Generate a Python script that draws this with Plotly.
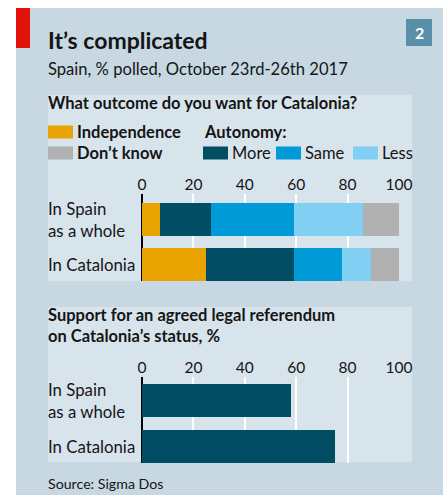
import plotly.graph_objects as go

# ---- data ----
categories = ["In Spain<br>as a whole", "In Catalonia"]
series_names = ["Independence", "More", "Same", "Less", "Don't know"]
independence = [7, 25]
more = [20, 34]
same = [32, 19]
less = [27, 11]
dont_know = [14, 11]
referendum = [58, 75]
tick_vals = [0, 20, 40, 60, 80, 100]
tick_text = ["0", "20", "40", "60", "80", "100"]

title = "It’s complicated"
subtitle = "Spain, % polled, October 23rd-26th 2017"
q1 = "What outcome do you want for Catalonia?"
q2 = "Support for an agreed legal referendum<br>on Catalonia’s status, %"
source = "Source: Sigma Dos"

# ---- style ----
W, H = 443, 495
FONT = "Lato"
C_IND = "#E9A300"
C_MORE = "#004D64"
C_SAME = "#009BD6"
C_LESS = "#82CFF4"
C_DK = "#B0B1B0"
OUTER = "#C7D8E2"
INNER = "#D8E4EC"
RED = "#E3120B"
BADGE = "#5A8FA8"
TXT = "#151515"
colors = [C_IND, C_MORE, C_SAME, C_LESS, C_DK]
values = [independence, more, same, less, dont_know]


def px(x):
    return x / W


def py(y):
    return 1 - y / H


fig = go.Figure()
for name, vals, col in zip(series_names, values, colors):
    fig.add_trace(go.Bar(x=vals, y=categories, orientation="h", name=name,
                         marker=dict(color=col, line=dict(width=0)),
                         xaxis="x", yaxis="y", showlegend=False,
                         hoverinfo="skip"))
fig.add_trace(go.Bar(x=referendum, y=categories, orientation="h",
                     marker=dict(color=C_MORE, line=dict(width=0)),
                     xaxis="x2", yaxis="y2", showlegend=False,
                     hoverinfo="skip"))

axis_common = dict(range=[0, 100], tickvals=tick_vals, ticktext=tick_text,
                   side="top", showgrid=True, gridcolor="white", gridwidth=2,
                   zeroline=True, zerolinecolor="black", zerolinewidth=1.5,
                   showline=False, ticks="", fixedrange=True, automargin=False,
                   tickfont=dict(family=FONT, size=15.5, color=TXT))

shapes = [
    dict(type="rect", xref="paper", yref="paper", x0=px(16), x1=px(443),
         y0=py(495), y1=py(8), fillcolor=OUTER, line=dict(width=0), layer="below"),
    dict(type="rect", xref="paper", yref="paper", x0=px(16), x1=px(30),
         y0=py(48), y1=py(8), fillcolor=RED, line=dict(width=0), layer="below"),
    dict(type="rect", xref="paper", yref="paper", x0=px(406), x1=px(432),
         y0=py(46), y1=py(19), fillcolor=BADGE, line=dict(width=0), layer="below"),
    dict(type="rect", xref="paper", yref="paper", x0=px(48), x1=px(412),
         y0=py(281), y1=py(95), fillcolor=INNER, line=dict(width=0), layer="below"),
    dict(type="rect", xref="paper", yref="paper", x0=px(48), x1=px(412),
         y0=py(462), y1=py(307), fillcolor=INNER, line=dict(width=0), layer="below"),
]

annotations = []


def ann(text, x, y, size, bold=False, color=TXT, xanchor="left", yanchor="middle"):
    t = f"<b>{text}</b>" if bold else text
    annotations.append(dict(text=t, x=x, y=y, xref="paper", yref="paper",
                            xanchor=xanchor, yanchor=yanchor, showarrow=False,
                            align="left",
                            font=dict(family=FONT, size=size, color=color)))


ann(title, px(46), py(40), 23, bold=True)
ann("2", px(419), py(32.5), 16, bold=True, color="white", xanchor="center")
ann(subtitle, px(46), py(69), 16.6)
ann(q1, px(46), py(103), 16.5, bold=True)
ann(q2, px(46), py(325), 16.5, bold=True)
ann(source, px(46), py(483), 14.2)

# legend
legend_items = [
    ("Independence", C_IND, 48, 132, True),
    ("Don’t know", C_DK, 48, 153, True),
    ("More", C_MORE, 203, 153, False),
    ("Same", C_SAME, 276, 153, False),
    ("Less", C_LESS, 353, 153, False),
]
for label, col, x0, yc, bold in legend_items:
    shapes.append(dict(type="rect", xref="paper", yref="paper", x0=px(x0), x1=px(x0 + 25),
                       y0=py(yc + 6.5), y1=py(yc - 6.5), fillcolor=col,
                       line=dict(width=0)))
    ann(label, px(x0 + 27), py(yc), 16.5, bold=bold)
ann("Autonomy:", px(202), py(132), 16.5, bold=True)

# category labels (left aligned)
for yref in ["y", "y2"]:
    for cat in categories:
        annotations.append(dict(text=cat, x=px(46), y=cat, xref="paper", yref=yref,
                                xanchor="left", yanchor="middle", showarrow=False,
                                align="left",
                                font=dict(family=FONT, size=16.8, color=TXT)))

fig.update_layout(
    width=W, height=H, autosize=False,
    margin=dict(l=0, r=0, t=0, b=0, pad=0),
    paper_bgcolor="white", plot_bgcolor="rgba(0,0,0,0)",
    barmode="stack", bargap=0.27,
    showlegend=False,
    xaxis=dict(domain=[px(142), px(399)], anchor="y", **axis_common),
    yaxis=dict(domain=[py(281), py(194)], anchor="x", range=[1.367, -0.567],
               showticklabels=False, showgrid=False, zeroline=False,
               ticks="", fixedrange=True),
    xaxis2=dict(domain=[px(142), px(399)], anchor="y2", **axis_common),
    yaxis2=dict(domain=[py(463), py(377)], anchor="x2", range=[1.359, -0.511],
                showticklabels=False, showgrid=False, zeroline=False,
                ticks="", fixedrange=True),
    shapes=shapes,
    annotations=annotations,
)

fig.write_html(
    "out.html",
    config={"responsive": False, "displayModeBar": False},
    default_width="443px", default_height="495px",
    post_script="document.body.style.margin='0';document.body.style.overflow='hidden';",
)
